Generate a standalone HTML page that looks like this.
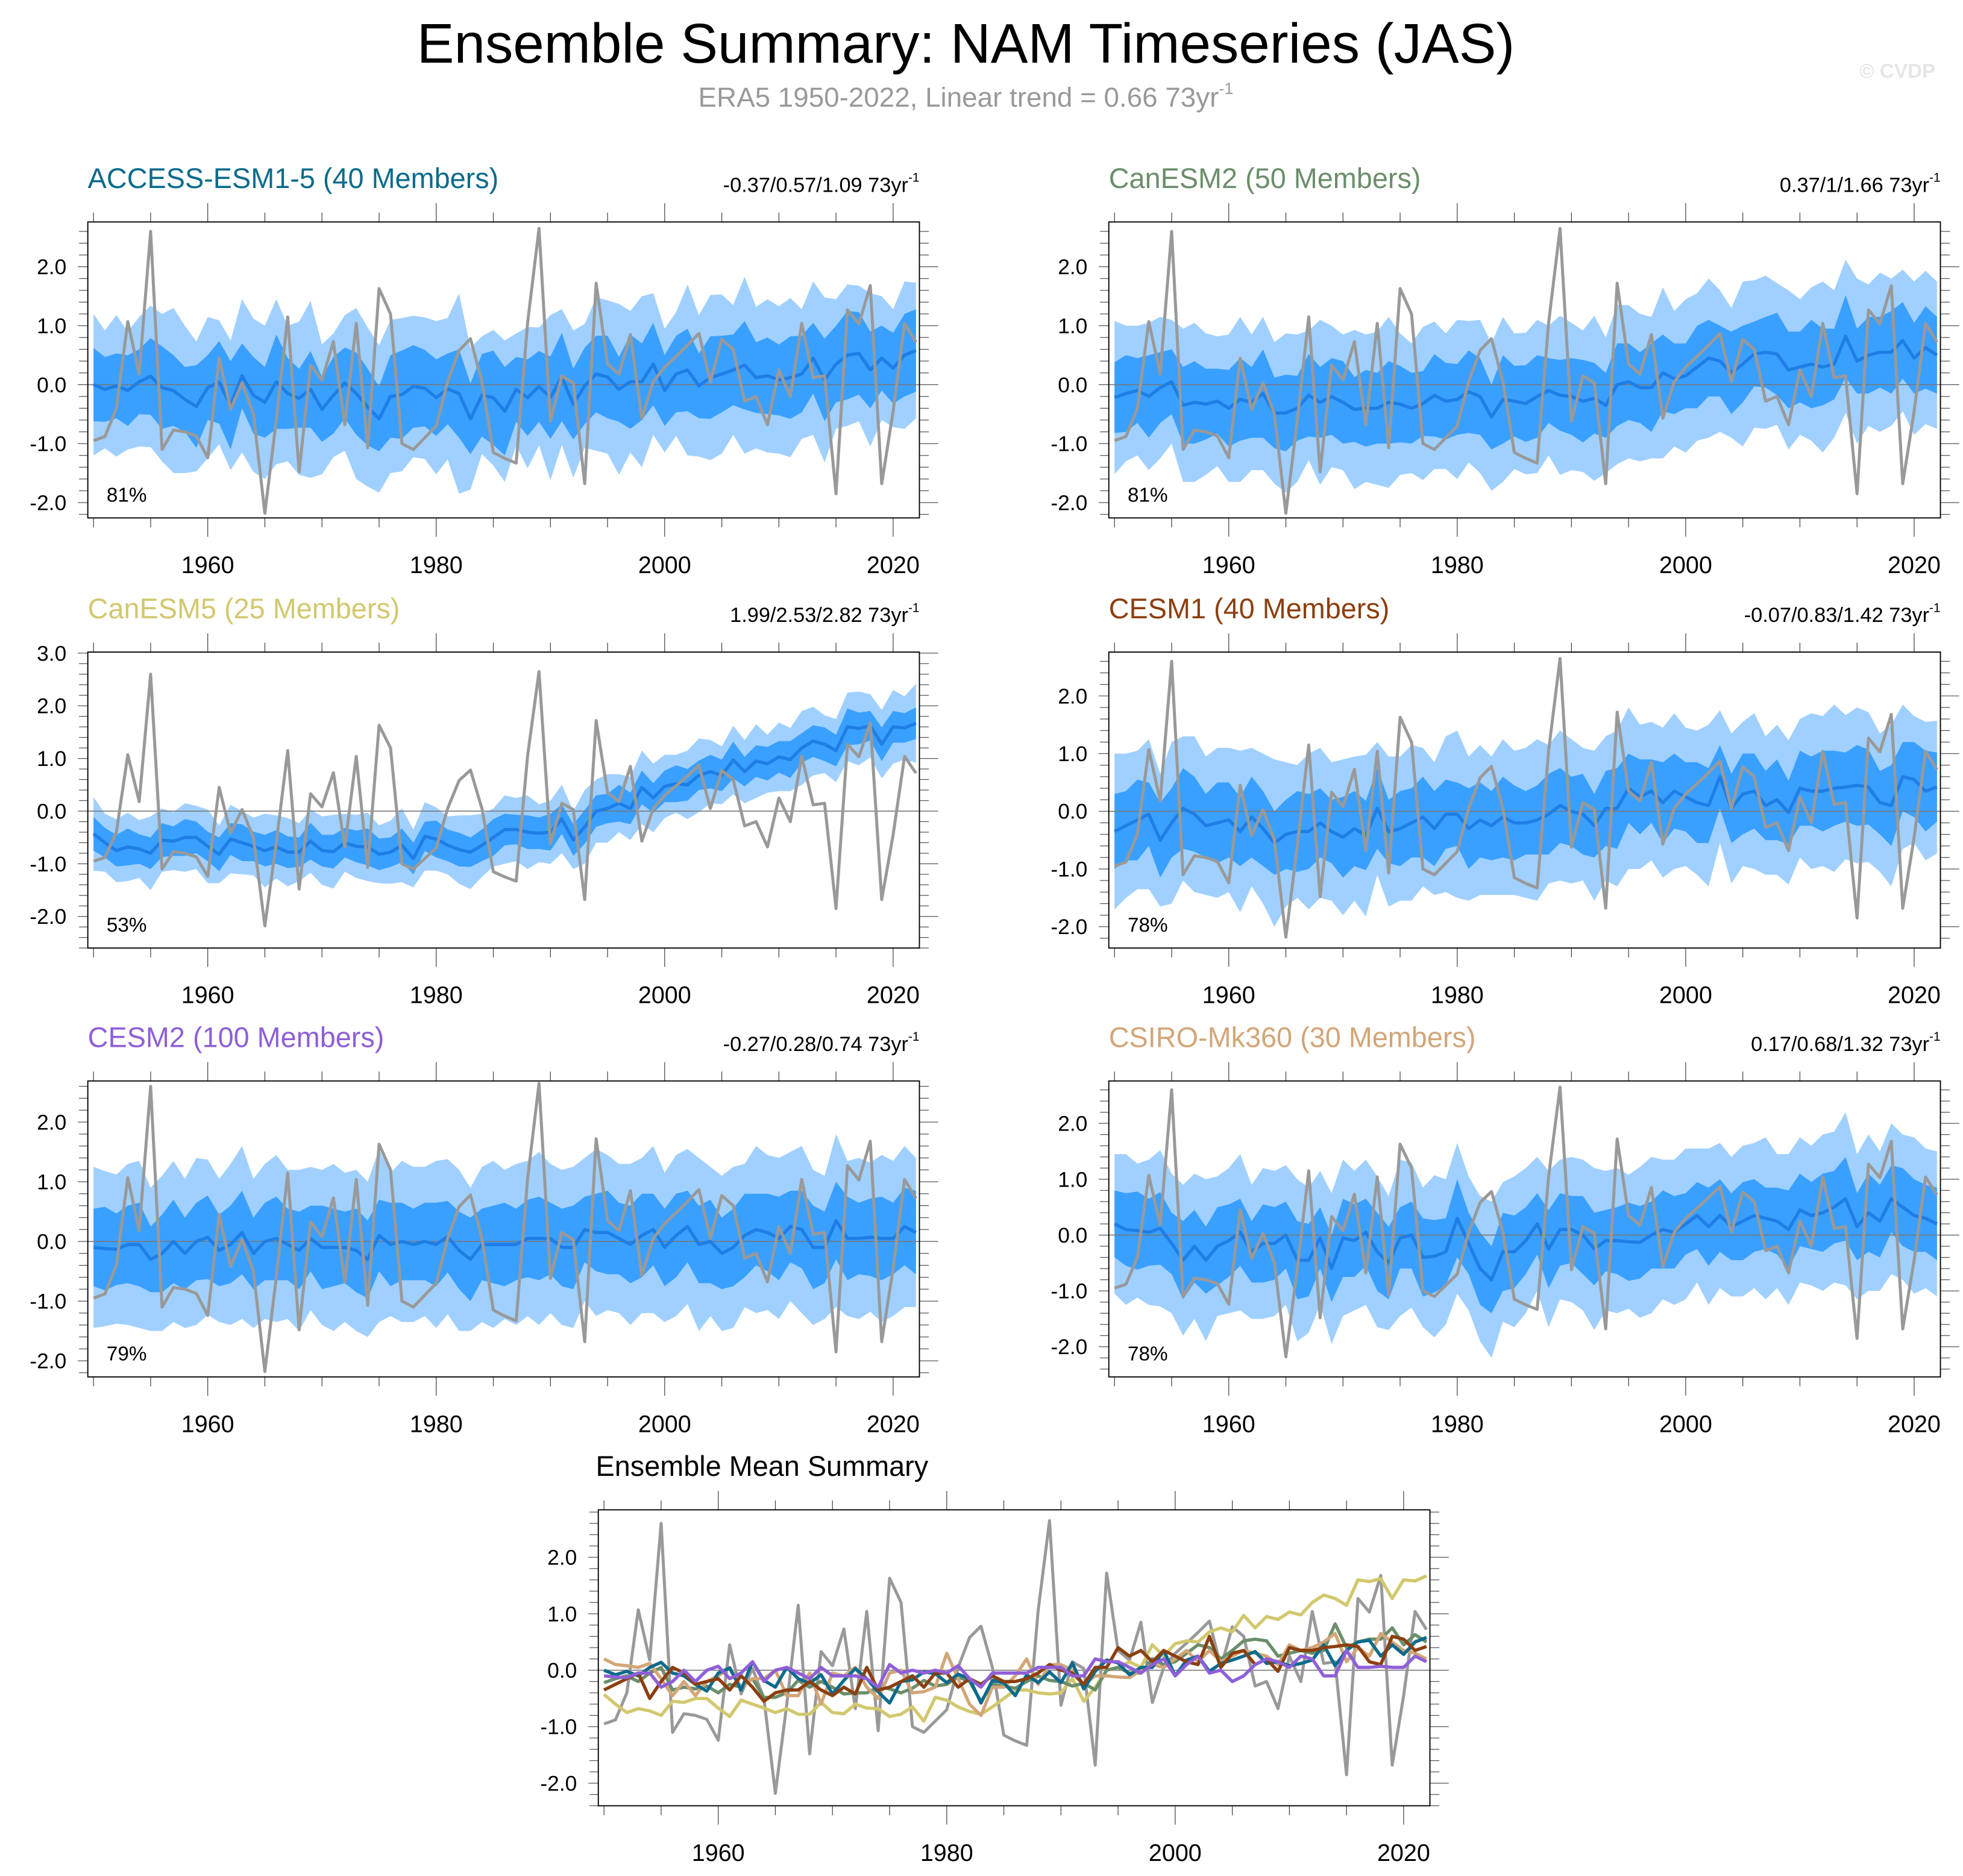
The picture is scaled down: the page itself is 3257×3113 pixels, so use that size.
<!DOCTYPE html>
<html><head><meta charset="utf-8"><title>Ensemble Summary: NAM Timeseries (JAS)</title>
<style>
html,body{margin:0;padding:0;background:#fff;}
svg{display:block;font-family:"Liberation Sans",Arial,sans-serif;}
</style></head>
<body>
<svg id="chart" width="3257" height="3113" viewBox="0 0 1565 1496" preserveAspectRatio="none" xmlns="http://www.w3.org/2000/svg">
<text x="770" y="50" font-size="44.5" text-anchor="middle" fill="#000">Ensemble Summary: NAM Timeseries (JAS)</text>
<text x="770" y="85" font-size="22" text-anchor="middle" fill="#999">ERA5 1950-2022, Linear trend = 0.66 73yr<tspan font-size="13" dy="-10">-1</tspan></text>
<text x="1543" y="62" font-size="16" font-weight="bold" text-anchor="end" fill="#e6e6e6">© CVDP</text>
<g id="panels"></g>
</svg>
<script>
const years = [];
for (let y = 1950; y <= 2022; y++) years.push(y);

const era5 = [-0.95,-0.88,-0.40,1.07,0.18,2.60,-1.10,-0.77,-0.80,-0.87,
-1.24,0.45,-0.42,0.03,-0.50,-2.18,-0.60,1.15,-1.48,0.33,
0.08,0.73,-0.68,1.04,-1.07,1.63,1.20,-1.00,-1.10,-0.90,
-0.70,0.05,0.58,0.78,0.05,-1.15,-1.25,-1.33,1.05,2.65,
-0.62,0.15,0.03,-1.68,1.72,0.35,0.18,0.85,-0.57,0.05,
0.30,0.48,0.67,0.87,0.05,0.77,0.60,-0.28,-0.20,-0.68,
0.25,-0.20,1.04,0.12,0.15,-1.85,1.27,1.03,1.68,-1.68,
-0.45,1.04,0.72];

const meanAccess = [0.00,-0.08,-0.02,-0.10,0.05,0.14,-0.05,-0.10,-0.25,-0.37,
-0.05,0.04,-0.35,0.15,-0.18,-0.30,0.05,-0.15,-0.23,-0.08,
-0.42,-0.18,0.03,-0.15,-0.38,-0.58,-0.20,-0.17,-0.03,-0.06,
-0.22,-0.07,-0.15,-0.58,-0.18,-0.22,-0.45,-0.08,-0.22,-0.03,
-0.22,0.13,-0.33,-0.02,0.18,0.13,-0.08,0.05,0.05,0.35,
-0.10,0.18,0.25,-0.02,0.12,0.18,0.25,0.33,0.12,0.15,
0.08,0.12,0.18,0.45,0.08,0.35,0.50,0.53,0.25,0.45,
0.28,0.50,0.58];
const meanCanESM2 = [-0.22,-0.15,-0.10,-0.20,-0.05,0.05,-0.35,-0.30,-0.33,-0.28,
-0.40,-0.25,-0.30,-0.15,-0.48,-0.48,-0.40,-0.18,-0.30,-0.20,
-0.30,-0.42,-0.40,-0.40,-0.30,-0.33,-0.40,-0.32,-0.18,-0.28,
-0.25,-0.12,-0.20,-0.55,-0.25,-0.28,-0.32,-0.20,-0.10,-0.18,
-0.20,-0.28,-0.23,-0.35,0.00,0.05,-0.05,-0.05,0.20,0.10,
0.15,0.30,0.45,0.40,0.20,0.35,0.52,0.55,0.52,0.25,
0.30,0.35,0.30,0.35,0.82,0.40,0.50,0.55,0.55,0.75,
0.45,0.63,0.50];
const meanCanESM5 = [-0.43,-0.60,-0.75,-0.68,-0.72,-0.80,-0.55,-0.57,-0.50,-0.50,
-0.67,-0.82,-0.53,-0.60,-0.67,-0.75,-0.68,-0.78,-0.78,-0.57,
-0.75,-0.77,-0.60,-0.67,-0.68,-0.82,-0.78,-0.65,-0.90,-0.48,
-0.53,-0.65,-0.73,-0.78,-0.65,-0.50,-0.35,-0.35,-0.40,-0.42,
-0.40,-0.15,-0.55,-0.30,0.00,0.05,0.15,0.05,0.45,0.25,
0.47,0.52,0.50,0.68,0.75,0.68,0.97,0.75,0.95,0.90,
1.03,0.98,1.20,1.33,1.27,1.15,1.60,1.57,1.62,1.27,
1.60,1.58,1.67];
const meanCESM1 = [-0.35,-0.25,-0.15,-0.05,-0.50,-0.20,0.05,-0.05,-0.25,-0.20,
-0.15,-0.35,-0.10,-0.30,-0.55,-0.40,-0.35,-0.35,-0.20,-0.35,
-0.45,-0.30,-0.42,0.05,-0.35,-0.30,-0.20,-0.10,-0.30,-0.05,
-0.05,-0.30,-0.15,-0.25,-0.10,-0.20,-0.20,-0.15,-0.05,0.10,
0.00,-0.05,-0.25,0.05,0.05,0.40,0.25,0.35,0.15,0.35,
0.25,0.15,0.10,0.60,0.05,0.30,0.35,0.10,0.20,-0.02,
0.40,0.35,0.35,0.40,0.42,0.45,0.42,0.15,0.10,0.60,
0.55,0.35,0.42];
const meanCESM2 = [-0.10,-0.12,-0.13,-0.05,-0.05,-0.30,-0.20,0.00,-0.20,0.00,
0.07,-0.15,-0.05,0.15,-0.20,0.00,0.05,-0.05,-0.15,0.05,
-0.10,-0.10,-0.10,-0.15,-0.30,0.10,-0.05,0.00,-0.05,0.00,
-0.05,0.08,-0.15,-0.30,-0.05,-0.05,-0.05,-0.05,0.05,0.05,
0.05,-0.10,-0.10,0.20,0.15,0.15,0.05,-0.05,0.10,0.20,
-0.10,0.10,0.25,-0.05,0.00,-0.20,-0.10,0.10,0.20,0.15,
0.05,0.25,0.20,-0.10,-0.10,0.35,0.05,0.05,0.07,0.05,
0.05,0.25,0.15];
const meanCSIRO = [0.20,0.10,0.08,0.05,0.12,-0.15,-0.45,-0.20,-0.45,-0.20,
-0.10,0.05,-0.30,-0.15,-0.15,0.00,-0.45,-0.45,-0.05,-0.60,
-0.05,-0.10,0.05,-0.30,-0.50,-0.05,0.00,-0.40,-0.38,-0.30,
0.30,-0.15,-0.60,-0.80,-0.30,-0.30,-0.10,0.20,-0.25,0.10,
0.10,0.00,-0.25,-0.10,-0.10,-0.12,-0.13,0.00,0.10,0.05,
0.20,0.35,0.15,0.35,0.15,0.25,0.35,0.30,0.25,0.10,
0.45,0.35,0.40,0.50,0.65,0.15,0.40,0.25,0.65,0.50,
0.35,0.30,0.20];

const outerAccess = [1.20,1.00,1.20,1.00,1.10,1.20,1.25,1.40,1.25,1.10,1.20,1.05,1.10,1.30,1.30,1.30,1.40,1.15,1.30,1.50,1.10,1.05,1.15,1.45,1.35,1.25,1.30,1.30,1.20,1.20,1.30,1.20,1.70,1.20,1.00,1.15,1.20,0.95,1.20,1.00,1.40,1.15,1.25,1.05,1.30,1.30,1.45,1.20,1.45,1.20,1.05,1.05,1.45,1.20,1.40,1.35,1.10,1.50,1.20,1.30,1.25,1.35,1.10,1.30,1.40,1.10,1.20,1.15,1.30,1.05,1.00,1.25,1.15];
const innerAccess = [0.62,0.55,0.55,0.60,0.55,0.65,0.70,0.60,0.55,0.70,0.55,0.70,0.75,0.55,0.65,0.60,0.80,0.60,0.50,0.65,0.55,0.65,0.60,0.70,0.65,0.55,0.70,0.75,0.70,0.65,0.65,0.60,0.75,0.60,0.70,0.80,0.75,0.55,0.65,0.60,0.70,0.75,0.60,0.65,0.65,0.70,0.55,0.80,0.65,0.70,0.60,0.65,0.70,0.55,0.70,0.65,0.60,0.75,0.60,0.65,0.60,0.70,0.65,0.60,0.70,0.65,0.75,0.70,0.65,0.55,0.60,0.70,0.70];
const outerCanESM2 = [1.30,1.15,1.10,1.25,1.20,1.05,1.30,1.35,1.20,1.10,1.25,1.40,1.15,1.30,1.20,1.35,1.25,1.10,1.40,1.20,1.15,1.35,1.25,1.30,1.45,1.20,1.10,1.30,1.25,1.15,1.35,1.20,1.30,1.25,1.40,1.15,1.20,1.30,1.10,1.35,1.25,1.20,1.40,1.15,1.35,1.30,1.25,1.20,1.45,1.15,1.30,1.25,1.35,1.20,1.10,1.40,1.25,1.30,1.20,1.35,1.15,1.30,1.45,1.25,1.30,1.40,1.20,1.35,1.25,1.20,1.30,1.30,1.25];
const innerCanESM2 = [0.60,0.65,0.55,0.70,0.60,0.55,0.65,0.70,0.60,0.55,0.65,0.70,0.60,0.75,0.60,0.65,0.55,0.70,0.60,0.65,0.70,0.55,0.65,0.60,0.70,0.65,0.60,0.55,0.70,0.65,0.60,0.70,0.65,0.55,0.75,0.60,0.65,0.70,0.55,0.60,0.65,0.70,0.60,0.55,0.70,0.65,0.60,0.75,0.65,0.60,0.55,0.70,0.65,0.60,0.70,0.65,0.55,0.60,0.70,0.65,0.60,0.75,0.65,0.60,0.70,0.55,0.65,0.60,0.70,0.65,0.60,0.70,0.65];
const outerCanESM5 = [0.70,0.55,0.60,0.65,0.55,0.70,0.60,0.55,0.65,0.60,0.70,0.55,0.65,0.60,0.55,0.70,0.60,0.65,0.55,0.60,0.65,0.70,0.55,0.60,0.65,0.55,0.60,0.70,0.55,0.65,0.60,0.55,0.65,0.70,0.60,0.55,0.65,0.60,0.70,0.55,0.60,0.65,0.55,0.70,0.60,0.65,0.55,0.60,0.70,0.65,0.60,0.55,0.65,0.70,0.60,0.55,0.65,0.60,0.70,0.55,0.65,0.60,0.70,0.65,0.55,0.60,0.65,0.70,0.60,0.65,0.70,0.60,0.75];
const innerCanESM5 = [0.32,0.28,0.30,0.35,0.28,0.30,0.32,0.28,0.35,0.30,0.28,0.32,0.30,0.35,0.28,0.30,0.32,0.30,0.28,0.35,0.30,0.32,0.28,0.30,0.35,0.30,0.28,0.32,0.30,0.28,0.35,0.30,0.32,0.28,0.30,0.35,0.30,0.28,0.32,0.30,0.35,0.28,0.30,0.32,0.30,0.28,0.35,0.30,0.32,0.28,0.30,0.35,0.30,0.28,0.32,0.30,0.35,0.28,0.30,0.32,0.30,0.35,0.28,0.30,0.32,0.30,0.35,0.30,0.28,0.32,0.30,0.28,0.30];
const outerCESM1 = [1.35,1.25,1.20,1.30,1.15,1.40,1.25,1.35,1.20,1.30,1.25,1.40,1.20,1.30,1.45,1.25,1.15,1.35,1.30,1.20,1.35,1.25,1.40,1.15,1.30,1.25,1.35,1.20,1.15,1.35,1.45,1.25,1.30,1.20,1.35,1.25,1.30,1.40,1.20,1.30,1.25,1.15,1.30,1.25,1.35,1.40,1.25,1.20,1.30,1.35,1.20,1.25,1.40,1.15,1.30,1.25,1.35,1.20,1.30,1.25,1.20,1.35,1.30,1.45,1.25,1.35,1.30,1.20,1.40,1.25,1.10,1.20,1.15];
const innerCESM1 = [0.65,0.60,0.70,0.55,0.65,0.60,0.70,0.65,0.55,0.70,0.65,0.60,0.70,0.65,0.55,0.60,0.70,0.65,0.60,0.55,0.70,0.65,0.60,0.70,0.55,0.65,0.60,0.70,0.65,0.60,0.55,0.70,0.65,0.60,0.70,0.65,0.55,0.60,0.70,0.65,0.60,0.70,0.55,0.65,0.70,0.60,0.65,0.55,0.70,0.65,0.60,0.70,0.65,0.55,0.60,0.70,0.65,0.60,0.70,0.55,0.65,0.60,0.70,0.65,0.60,0.70,0.65,0.55,0.70,0.60,0.65,0.70,0.60];
const outerCESM2 = [1.35,1.30,1.25,1.35,1.40,1.20,1.30,1.35,1.25,1.40,1.30,1.20,1.35,1.45,1.25,1.30,1.40,1.25,1.35,1.20,1.30,1.40,1.25,1.35,1.30,1.45,1.20,1.35,1.30,1.25,1.40,1.30,1.35,1.20,1.30,1.40,1.25,1.35,1.30,1.45,1.25,1.30,1.35,1.20,1.40,1.30,1.25,1.35,1.30,1.40,1.25,1.35,1.30,1.45,1.25,1.30,1.35,1.20,1.40,1.30,1.35,1.25,1.40,1.30,1.20,1.45,1.30,1.35,1.25,1.40,1.30,1.35,1.25];
const innerCESM2 = [0.65,0.70,0.60,0.65,0.70,0.55,0.65,0.70,0.60,0.65,0.70,0.60,0.65,0.70,0.60,0.65,0.70,0.60,0.65,0.55,0.70,0.65,0.60,0.70,0.65,0.60,0.70,0.65,0.60,0.65,0.70,0.60,0.65,0.70,0.60,0.65,0.70,0.60,0.65,0.70,0.60,0.65,0.70,0.55,0.65,0.70,0.60,0.65,0.70,0.60,0.65,0.70,0.60,0.65,0.70,0.60,0.65,0.70,0.60,0.65,0.70,0.60,0.65,0.70,0.60,0.65,0.70,0.60,0.65,0.70,0.60,0.65,0.70];
const outerCSIRO = [1.25,1.35,1.20,1.30,1.40,1.25,1.35,1.30,1.45,1.25,1.30,1.40,1.20,1.35,1.30,1.25,1.45,1.30,1.20,1.35,1.40,1.25,1.30,1.35,1.20,1.40,1.30,1.25,1.45,1.30,1.35,1.20,1.30,1.40,1.25,1.35,1.30,1.20,1.40,1.25,1.30,1.35,1.45,1.25,1.30,1.20,1.35,1.40,1.25,1.30,1.35,1.20,1.40,1.30,1.25,1.35,1.30,1.45,1.20,1.35,1.30,1.25,1.40,1.35,1.55,1.30,1.40,1.25,1.35,1.30,1.40,1.25,1.30];
const innerCSIRO = [0.60,0.65,0.70,0.60,0.65,0.55,0.70,0.65,0.60,0.70,0.65,0.60,0.55,0.70,0.65,0.60,0.70,0.65,0.55,0.60,0.70,0.65,0.60,0.70,0.65,0.55,0.60,0.70,0.65,0.60,0.70,0.55,0.65,0.60,0.70,0.65,0.60,0.55,0.70,0.65,0.60,0.70,0.65,0.55,0.60,0.70,0.65,0.60,0.70,0.65,0.55,0.60,0.70,0.65,0.60,0.70,0.65,0.55,0.60,0.70,0.65,0.60,0.70,0.65,0.75,0.60,0.70,0.65,0.60,0.70,0.65,0.60,0.65];

const modelNames = ["ACCESS-ESM1-5 (40 Members)","CanESM2 (50 Members)","CanESM5 (25 Members)","CESM1 (40 Members)","CESM2 (100 Members)","CSIRO-Mk360 (30 Members)"];
const modelColors = ["#0b6b8c","#6b8e6b","#d2c86e","#8b3f0f","#8f5fd8","#d2a679"];
const trendLabels = ["-0.37/0.57/1.09 73yr","0.37/1/1.66 73yr","1.99/2.53/2.82 73yr","-0.07/0.83/1.42 73yr","-0.27/0.28/0.74 73yr","0.17/0.68/1.32 73yr"];
const pctLabels = ["81%","81%","53%","78%","79%","78%"];
const yTickLabels = ["-2.0","-1.0","0.0","1.0","2.0","3.0"];
const yTickValues = [-2,-1,0,1,2,3];
const xTickLabels = ["1960","1980","2000","2020"];
const xTickValues = [1960,1980,2000,2020];

const means = [meanAccess,meanCanESM2,meanCanESM5,meanCESM1,meanCESM2,meanCSIRO];
const outers = [outerAccess,outerCanESM2,outerCanESM5,outerCESM1,outerCESM2,outerCSIRO];
const inners = [innerAccess,innerCanESM2,innerCanESM5,innerCESM1,innerCESM2,innerCSIRO];

const NS = "http://www.w3.org/2000/svg";
const root = document.getElementById("panels");
function mk(tag, attrs, parent){
  const e = document.createElementNS(NS, tag);
  for (const k in attrs) e.setAttribute(k, attrs[k]);
  parent.appendChild(e);
  return e;
}

const panelBoxes = [
  {x0:70,x1:733,y0:177,y1:413,ymin:-2.26,ymax:2.76},
  {x0:884,x1:1547,y0:177,y1:413,ymin:-2.26,ymax:2.76},
  {x0:70,x1:733,y0:520,y1:756,ymin:-2.6,ymax:3.02},
  {x0:884,x1:1547,y0:520,y1:756,ymin:-2.37,ymax:2.76},
  {x0:70,x1:733,y0:862,y1:1098,ymin:-2.27,ymax:2.69},
  {x0:884,x1:1547,y0:862,y1:1098,ymin:-2.54,ymax:2.76},
  {x0:477,x1:1140,y0:1204,y1:1440,ymin:-2.4,ymax:2.84}
];

function axes(b){
  const sx = yr => b.x0 + (yr - 1949.5) / (2022.3 - 1949.5) * (b.x1 - b.x0);
  const sy = v => b.y1 - (v - b.ymin) / (b.ymax - b.ymin) * (b.y1 - b.y0);
  return {sx, sy};
}

function drawFrame(b, g, sx, sy, maxTick){
  const z = mk("line",{x1:b.x0,x2:b.x1,y1:sy(0),y2:sy(0),stroke:"#777","stroke-width":0.8},g);
  
  
  for (let yr = 1950; yr <= 2020; yr += 5){
    const maj = yr % 20 === 0 && yr >= 1960;
    const L = maj ? 15 : 7.5;
    const x = sx(yr);
    mk("line",{x1:x,x2:x,y1:b.y0,y2:b.y0-L,stroke:"#444","stroke-width":0.6},g);
    mk("line",{x1:x,x2:x,y1:b.y1,y2:b.y1+L,stroke:"#444","stroke-width":0.6},g);
  }
  xTickValues.forEach((v,i)=>{
    const t = mk("text",{x:sx(v),y:b.y1+44,"font-size":19,"text-anchor":"middle",fill:"#000"},g);
    t.textContent = xTickLabels[i];
    
    
  });
  for (let k = -30; k <= 30; k++){
    const v = k/5;
    if (v < b.ymin || v > b.ymax) continue;
    const maj = k % 5 === 0;
    const y = sy(v);
    mk("line",{x1:b.x0,x2:b.x0-(maj?8:7),y1:y,y2:y,stroke:"#555","stroke-width":0.6},g);
    mk("line",{x1:b.x1,x2:b.x1+(maj?15:7.5),y1:y,y2:y,stroke:"#555","stroke-width":0.6},g);
  }
  yTickValues.forEach((v,i)=>{
    if (v > maxTick || v < b.ymin) return;
    const t = mk("text",{x:b.x0-17,y:sy(v)+6,"font-size":17,"text-anchor":"end",fill:"#000"},g);
    t.textContent = yTickLabels[i];
    
    
  });
  const f = mk("rect",{x:b.x0,y:b.y0,width:b.x1-b.x0,height:b.y1-b.y0,fill:"none",stroke:"#000","stroke-width":0.9},g);
  
  
}

function linePath(arr, sx, sy){
  return arr.map((v,i)=>(i?"L":"M")+sx(years[i]).toFixed(2)+","+sy(v).toFixed(2)).join("");
}
function bandPath(mean, half, sx, sy){
  let d = "";
  mean.forEach((v,i)=>{ d += (i?"L":"M")+sx(years[i]).toFixed(2)+","+sy(v+half[i]).toFixed(2); });
  for (let i = mean.length-1; i >= 0; i--) d += "L"+sx(years[i]).toFixed(2)+","+sy(mean[i]-half[i]).toFixed(2);
  return d+"Z";
}

for (let p = 0; p < 6; p++){
  const b = panelBoxes[p];
  const g = mk("g",{},root);
  
  
  const {sx, sy} = axes(b);
  const title = mk("text",{x:b.x0,y:b.y0-27,"font-size":22.5,fill:modelColors[p]},g);
  title.textContent = modelNames[p];
  
  
  const tr = mk("text",{x:b.x1,y:b.y0-24,"font-size":16.5,"text-anchor":"end",fill:"#000"},g);
  tr.textContent = trendLabels[p];
  const sup = mk("tspan",{"font-size":10,dy:-8},tr);
  sup.textContent = "-1";
  
  

  const ob = mk("path",{d:bandPath(means[p],outers[p],sx,sy),fill:"#a0d0ff",stroke:"none"},g);
  
  
  const ib = mk("path",{d:bandPath(means[p],inners[p],sx,sy),fill:"#3aa0ff",stroke:"none"},g);
  
  

  drawFrame(b, g, sx, sy, p === 2 ? 3 : 2);

  const ml = mk("path",{d:linePath(means[p],sx,sy),fill:"none",stroke:"#1f7ee6","stroke-width":2.6,"stroke-linejoin":"round"},g);
  
  
  const el = mk("path",{d:linePath(era5,sx,sy),fill:"none",stroke:"#999","stroke-width":2.4,"stroke-linejoin":"round"},g);
  
  

  const pc = mk("text",{x:b.x0+15,y:b.y1-13,"font-size":16,fill:"#000"},g);
  pc.textContent = pctLabels[p];
  
  
}

{
  const b = panelBoxes[6];
  const g = mk("g",{},root);
  
  
  const {sx, sy} = axes(b);
  const t = mk("text",{x:b.x0-2,y:b.y0-27,"font-size":22.5,fill:"#000"},g);
  t.textContent = "Ensemble Mean Summary";
  
  
  drawFrame(b, g, sx, sy, 2);
  const el = mk("path",{d:linePath(era5,sx,sy),fill:"none",stroke:"#999","stroke-width":2.4,"stroke-linejoin":"round"},g);
  
  
  const order = [2,1,5,0,3,4];
  order.forEach(p=>{
    const l = mk("path",{d:linePath(means[p],sx,sy),fill:"none",stroke:modelColors[p],"stroke-width":2.6,"stroke-linejoin":"round"},g);
    
    
  });
}
</script>
</body></html>
